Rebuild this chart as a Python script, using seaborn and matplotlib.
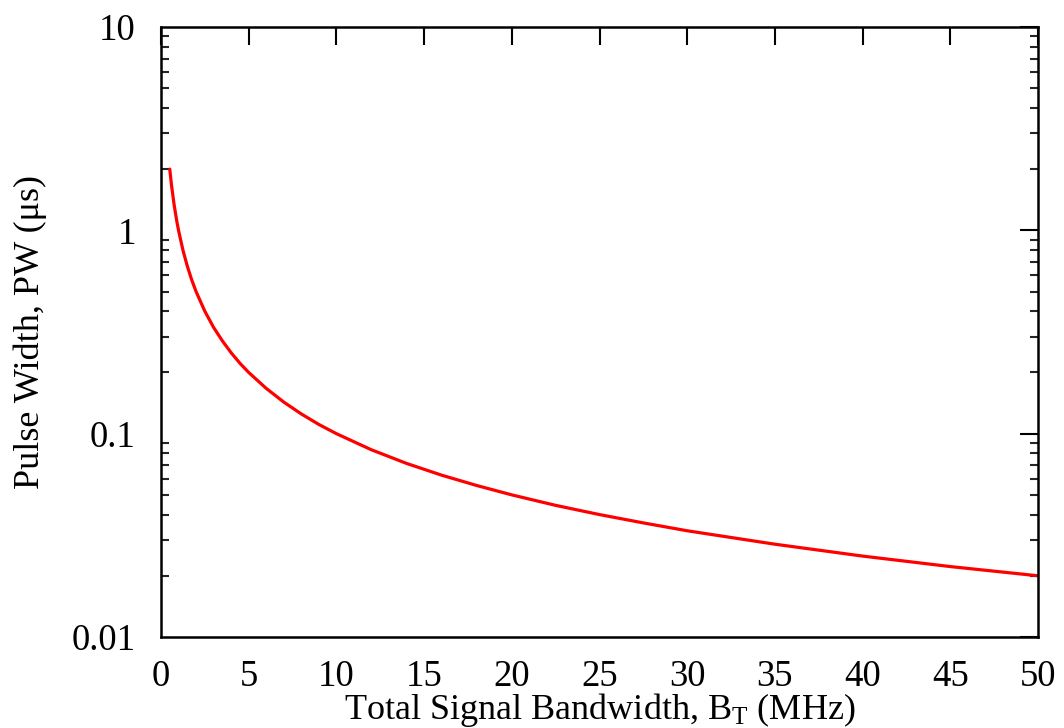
import matplotlib
matplotlib.use("Agg")
import matplotlib.pyplot as plt
import seaborn as sns
import pandas as pd
from matplotlib.ticker import LogLocator, NullFormatter

bandwidth_mhz = [0.5, 0.6, 0.75, 0.9, 1.0, 1.25, 1.5, 1.75, 2.0, 2.5, 3.0, 3.5, 4.0, 4.5,
                 5.0, 6.0, 7.0, 8.0, 9.0, 10.0, 12.0, 14.0, 16.0, 18.0, 20.0, 22.5,
                 25.0, 27.5, 30.0, 35.0, 40.0, 45.0, 50.0]
pulse_width_us = [2.0, 1.667, 1.333, 1.111, 1.0, 0.8, 0.667, 0.571, 0.5, 0.4, 0.333, 0.286,
                  0.25, 0.222, 0.2, 0.167, 0.143, 0.125, 0.111, 0.1, 0.0833, 0.0714,
                  0.0625, 0.0556, 0.05, 0.0444, 0.04, 0.0364, 0.0333, 0.0286, 0.025,
                  0.0222, 0.02]
x_ticks = [0, 5, 10, 15, 20, 25, 30, 35, 40, 45, 50]
y_ticks = [0.01, 0.1, 1, 10]
y_tick_labels = ["0.01", "0.1", "1", "10"]

sns.set_theme(style="white")
plt.rcParams["font.family"] = ["Liberation Serif", "DejaVu Serif"]
plt.rcParams["mathtext.fontset"] = "custom"
plt.rcParams["mathtext.rm"] = "Liberation Serif"
plt.rcParams["mathtext.it"] = "Liberation Serif:italic"
plt.rcParams["text.color"] = "black"
plt.rcParams["axes.labelcolor"] = "black"

df = pd.DataFrame({"bw": bandwidth_mhz, "pw": pulse_width_us})

fig = plt.figure(figsize=(10.64, 7.28), dpi=100)
ax = fig.add_axes([0.1513, 0.125, 0.8243, 0.8379])
sns.lineplot(data=df, x="bw", y="pw", ax=ax, color="#ff0000", linewidth=2.3)
ax.set_yscale("log")
ax.set_xlim(0, 50)
ax.set_ylim(0.01, 10)
ax.set_xticks(x_ticks)
ax.set_xticklabels([str(t) for t in x_ticks])
ax.set_yticks(y_ticks)
ax.set_yticklabels(y_tick_labels)
ax.yaxis.set_minor_locator(LogLocator(base=10, subs=range(2, 10)))
ax.yaxis.set_minor_formatter(NullFormatter())

for s in ax.spines.values():
    s.set_color("black")
    s.set_linewidth(1.8)
ax.tick_params(which="major", direction="in", length=13, width=1.5, top=True, right=True,
               labelsize=26.5, colors="black")
ax.tick_params(axis="x", which="major", pad=16)
ax.tick_params(axis="y", which="major", pad=18)
ax.tick_params(which="minor", direction="in", length=6, width=1.5, top=False, right=True, left=True)
ax.tick_params(axis="x", which="minor", bottom=False, top=False)

ax.set_xlabel(r"Total Signal Bandwidth, B$_\mathrm{T}$ (MHz)", fontsize=26)
ax.xaxis.set_label_coords(0.5, -0.088)
ax.set_ylabel("Pulse Width, PW (μs)", fontsize=26, labelpad=18)
ax.grid(False)

fig.savefig("out.png", dpi=100, facecolor="white")
